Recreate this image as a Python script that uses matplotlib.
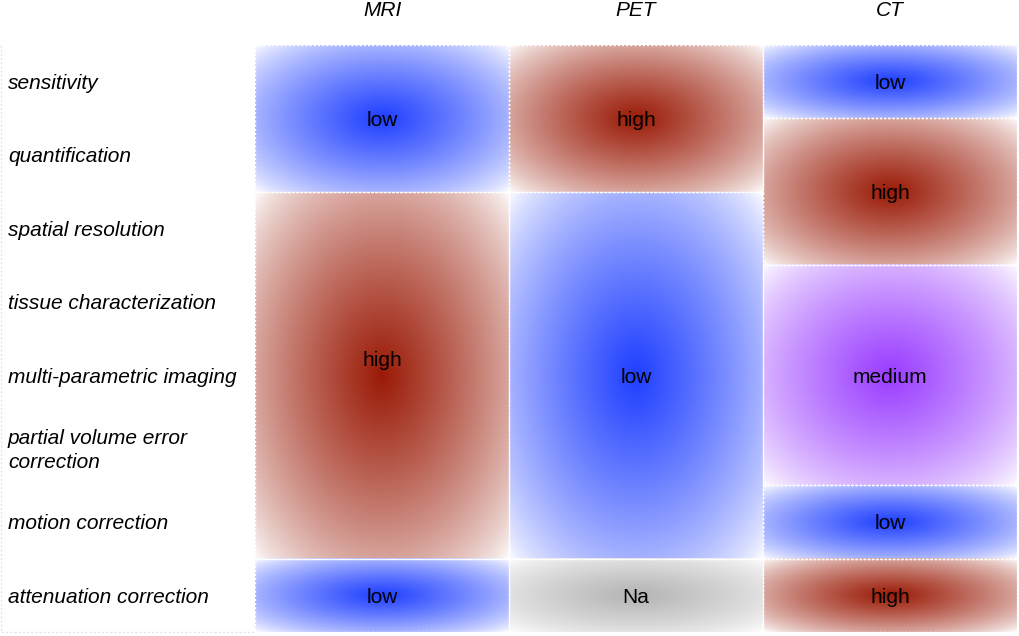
import numpy as np
import matplotlib.pyplot as plt
import matplotlib.transforms as mtransforms

plt.rcParams['font.family'] = ['Liberation Sans', 'DejaVu Sans']

features = ["sensitivity", "quantification", "spatial resolution",
            "tissue characterization", "multi-parametric imaging",
            "partial volume error\ncorrection", "motion correction",
            "attenuation correction"]
modalities = ["MRI", "PET", "CT"]

# merged cells per modality: (first row, last row, rating)
mri_cells = [(0, 1, "low"), (2, 6, "high"), (7, 7, "low")]
pet_cells = [(0, 1, "high"), (2, 6, "low"), (7, 7, "Na")]
ct_cells = [(0, 0, "low"), (1, 2, "high"), (3, 5, "medium"), (6, 6, "low"), (7, 7, "high")]
all_cells = [mri_cells, pet_cells, ct_cells]

level_colors = {"low": "#1f3fff", "high": "#9a1a06", "medium": "#9a3cff", "Na": "#b4b4b4"}


def gradient(color, w, h, n=200):
    rgb = np.array(plt.matplotlib.colors.to_rgb(color))
    u = np.linspace(-1, 1, n)
    v = np.linspace(-1, 1, int(n * h / w) + 2)
    U, V = np.meshgrid(u, v)
    r = np.sqrt(U ** 2 + V ** 2) / np.sqrt(2)
    t = np.clip(1 - r, 0, 1) ** 0.75
    img = 1 - t[..., None] * (1 - rgb[None, None, :])
    return img


fig = plt.figure(figsize=(10.2, 6.36), dpi=100)
W, H = 1020, 636
ax = fig.add_axes([255 / W, (H - 632) / H, 762 / W, 587 / H])
ax.set_xlim(0, 3)
ax.set_ylim(8, 0)
ax.axis("off")

for j, cells in enumerate(all_cells):
    for r0, r1, level in cells:
        nrows = r1 - r0 + 1
        img = gradient(level_colors[level], 254, 73.4 * nrows)
        ax.imshow(img, extent=(j, j + 1, r1 + 1, r0), aspect="auto",
                  interpolation="bilinear", zorder=1)
        ax.plot([j, j + 1, j + 1, j, j], [r0, r0, r1 + 1, r1 + 1, r0],
                color="white", lw=1, ls=(0, (1.5, 1.5)), zorder=2, clip_on=False)
        ty = (r0 + r1 + 1) / 2 + 0.025
        if level == "high" and nrows == 5 and j == 0:
            ty -= 0.23
        ax.text(j + 0.5, ty, level, ha="center", va="center", fontsize=15,
                color="black", zorder=3)

for j, m in enumerate(modalities):
    ax.text(j + 0.5, -0.47, m, ha="center", va="center", fontsize=15,
            style="italic", clip_on=False)

trans = mtransforms.blended_transform_factory(fig.transFigure, ax.transData)
for i, f in enumerate(features):
    ax.text(8 / W, i + 0.525, f, ha="left", va="center", fontsize=15,
            style="italic", transform=trans, linespacing=1.3)

# faint border of the label column
fig.add_artist(plt.Line2D([1 / W, 1 / W, 255 / W], [(H - 45) / H, (H - 632) / H, (H - 632) / H],
                          color="#e4e4e4", lw=1, ls=(0, (1.5, 1.5))))

fig.savefig("out.png", dpi=100)
